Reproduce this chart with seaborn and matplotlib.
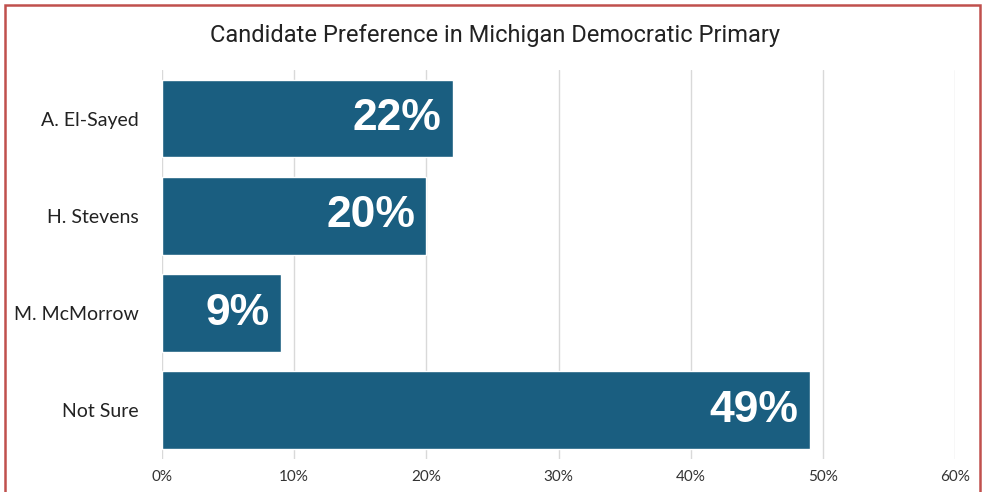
import pandas as pd
import numpy as np
import matplotlib.pyplot as plt
import seaborn as sns
from matplotlib.patches import Rectangle
from matplotlib.ticker import PercentFormatter

# data
candidates = ["A. El-Sayed", "H. Stevens", "M. McMorrow", "Not Sure"]
shares = [22, 20, 9, 49]
x_ticks = [0, 10, 20, 30, 40, 50, 60]

df = pd.DataFrame({"candidate": candidates, "share": shares})

sns.set_style("white")
plt.rcParams['font.family'] = ['Roboto', 'DejaVu Sans']

fig = plt.figure(figsize=(9.86, 4.92), dpi=100)
ax = fig.add_axes([0.1643, 0.0671, 0.8043, 0.7907])

sns.barplot(data=df, x="share", y="candidate", orient="h", color="#1a5e80",
            saturation=1, width=0.8, ax=ax, zorder=3)

ax.set_xlim(0, 60)
ax.set_ylim(3.5, -0.5)
ax.set_xticks(x_ticks)
ax.xaxis.set_major_formatter(PercentFormatter(decimals=0))
ax.grid(axis="x", color="#d9d9d9", linewidth=1, zorder=0)
ax.set_axisbelow(True)
sns.despine(ax=ax, left=True, bottom=True)
ax.set_xlabel("")
ax.set_ylabel("")
ax.tick_params(axis="y", length=0, pad=17, labelsize=14, labelcolor="#222222")
ax.tick_params(axis="x", length=0, pad=8, labelsize=11, labelcolor="#333333")
for lab in ax.get_yticklabels() + ax.get_xticklabels():
    lab.set_family(['Lato', 'DejaVu Sans'])

for p, v in zip(ax.patches, shares):
    ax.annotate(f"{v}%", (p.get_width(), p.get_y() + p.get_height() / 2),
                xytext=(-8, 0), textcoords="offset points",
                ha="right", va="center", color="white", fontsize=32,
                fontweight="bold", family=['Liberation Sans', 'DejaVu Sans'])

fig.text(0.502, 0.928, "Candidate Preference in Michigan Democratic Primary",
         ha="center", va="center", fontsize=17, color="#222222")

# red frame around the chart
fig.patches.append(Rectangle((5 / 986, -0.05), 975 / 986, 1 - 5 / 492 + 0.05,
                             transform=fig.transFigure, fill=False,
                             edgecolor="#c0504d", linewidth=1.8))

fig.savefig("out.png", dpi=100)
